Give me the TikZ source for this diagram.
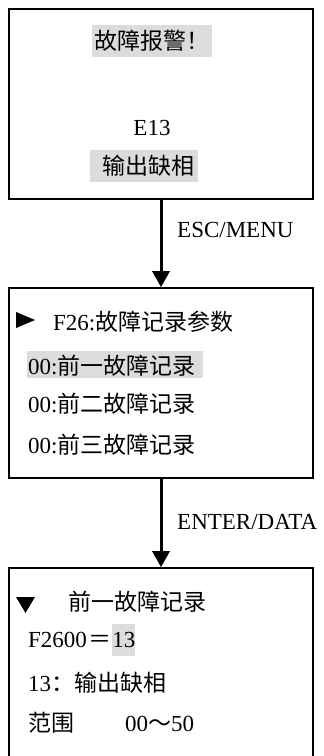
\documentclass[tikz,border=0pt]{standalone}
\usepackage{fontspec}
\setmainfont{Liberation Serif}
\newfontfamily\cjk{Noto Sans CJK SC}
\usetikzlibrary{arrows.meta}
\definecolor{hlgray}{RGB}{220,220,220}
\tikzset{
  panel/.style={draw=black, line width=1.6pt, minimum width=304pt, inner sep=0pt},
  txt/.style={font=\fontsize{23}{23}\selectfont, inner sep=0pt, anchor=west},
  hltxt/.style={txt, fill=hlgray},
  flow/.style={line width=3pt, -{Triangle[length=16pt,width=17pt]}},
  marker/.style={fill=black},
}
\begin{document}
\begin{tikzpicture}[x=1pt,y=-1pt]
\useasboundingbox (0,0) rectangle (324,756);
% panels
\node[panel, minimum height=190pt] (b1) at (161,104) {};
\node[panel, minimum height=190pt] (b2) at (161,383) {};
\node[panel, minimum height=204pt] (b3) at (161,670) {};
% panel 1
\node[hltxt, anchor=center, minimum width=120pt, minimum height=32pt] (t1) at (152,41) {\cjk 故障报警！};
\node[txt, anchor=center] (t2) at (152,128) {E13};
\node[hltxt, anchor=center, minimum width=108pt, minimum height=32pt] (t3) at (144,166) {\hspace{8pt}\cjk 输出缺相};
% connector 1
\draw[flow] (b1.south) -- (b2.north);
\node[txt] (l1) at (177,230) {ESC/MENU};
% panel 2
\fill[marker] (16,312) -- (35,320) -- (16,328) -- cycle;
\node[txt] (p1) at (53,322) {F26:{\cjk 故障记录参数}};
\node[hltxt, text width=176pt, align=left, minimum height=27pt, text depth=0pt] (p2) at (27,364.5) {\hspace{1pt}00:{\cjk 前一故障记录}};
\node[txt] (p3) at (28,404) {00:{\cjk 前二故障记录}};
\node[txt] (p4) at (28,445) {00:{\cjk 前三故障记录}};
% connector 2
\draw[flow] (b2.south) -- (b3.north);
\node[txt] (l2) at (177,522) {ENTER/DATA};
% panel 3
\fill[marker] (16,597) -- (35,597) -- (25.5,613) -- cycle;
\node[txt] (q1) at (68,602) {\cjk 前一故障记录};
\node[txt] (q2) at (28,640) {F2600\hspace{2pt}{\cjk ＝}};
\node[hltxt, minimum height=32pt, minimum width=23pt] (q2v) at (q2.east) {13};
\node[txt] (q3) at (28,683) {13{\cjk ：输出缺相}};
\node[txt] (q4) at (28,723) {{\cjk 范围}\hspace{51pt}00{\cjk ～}50};
\end{tikzpicture}
\end{document}
